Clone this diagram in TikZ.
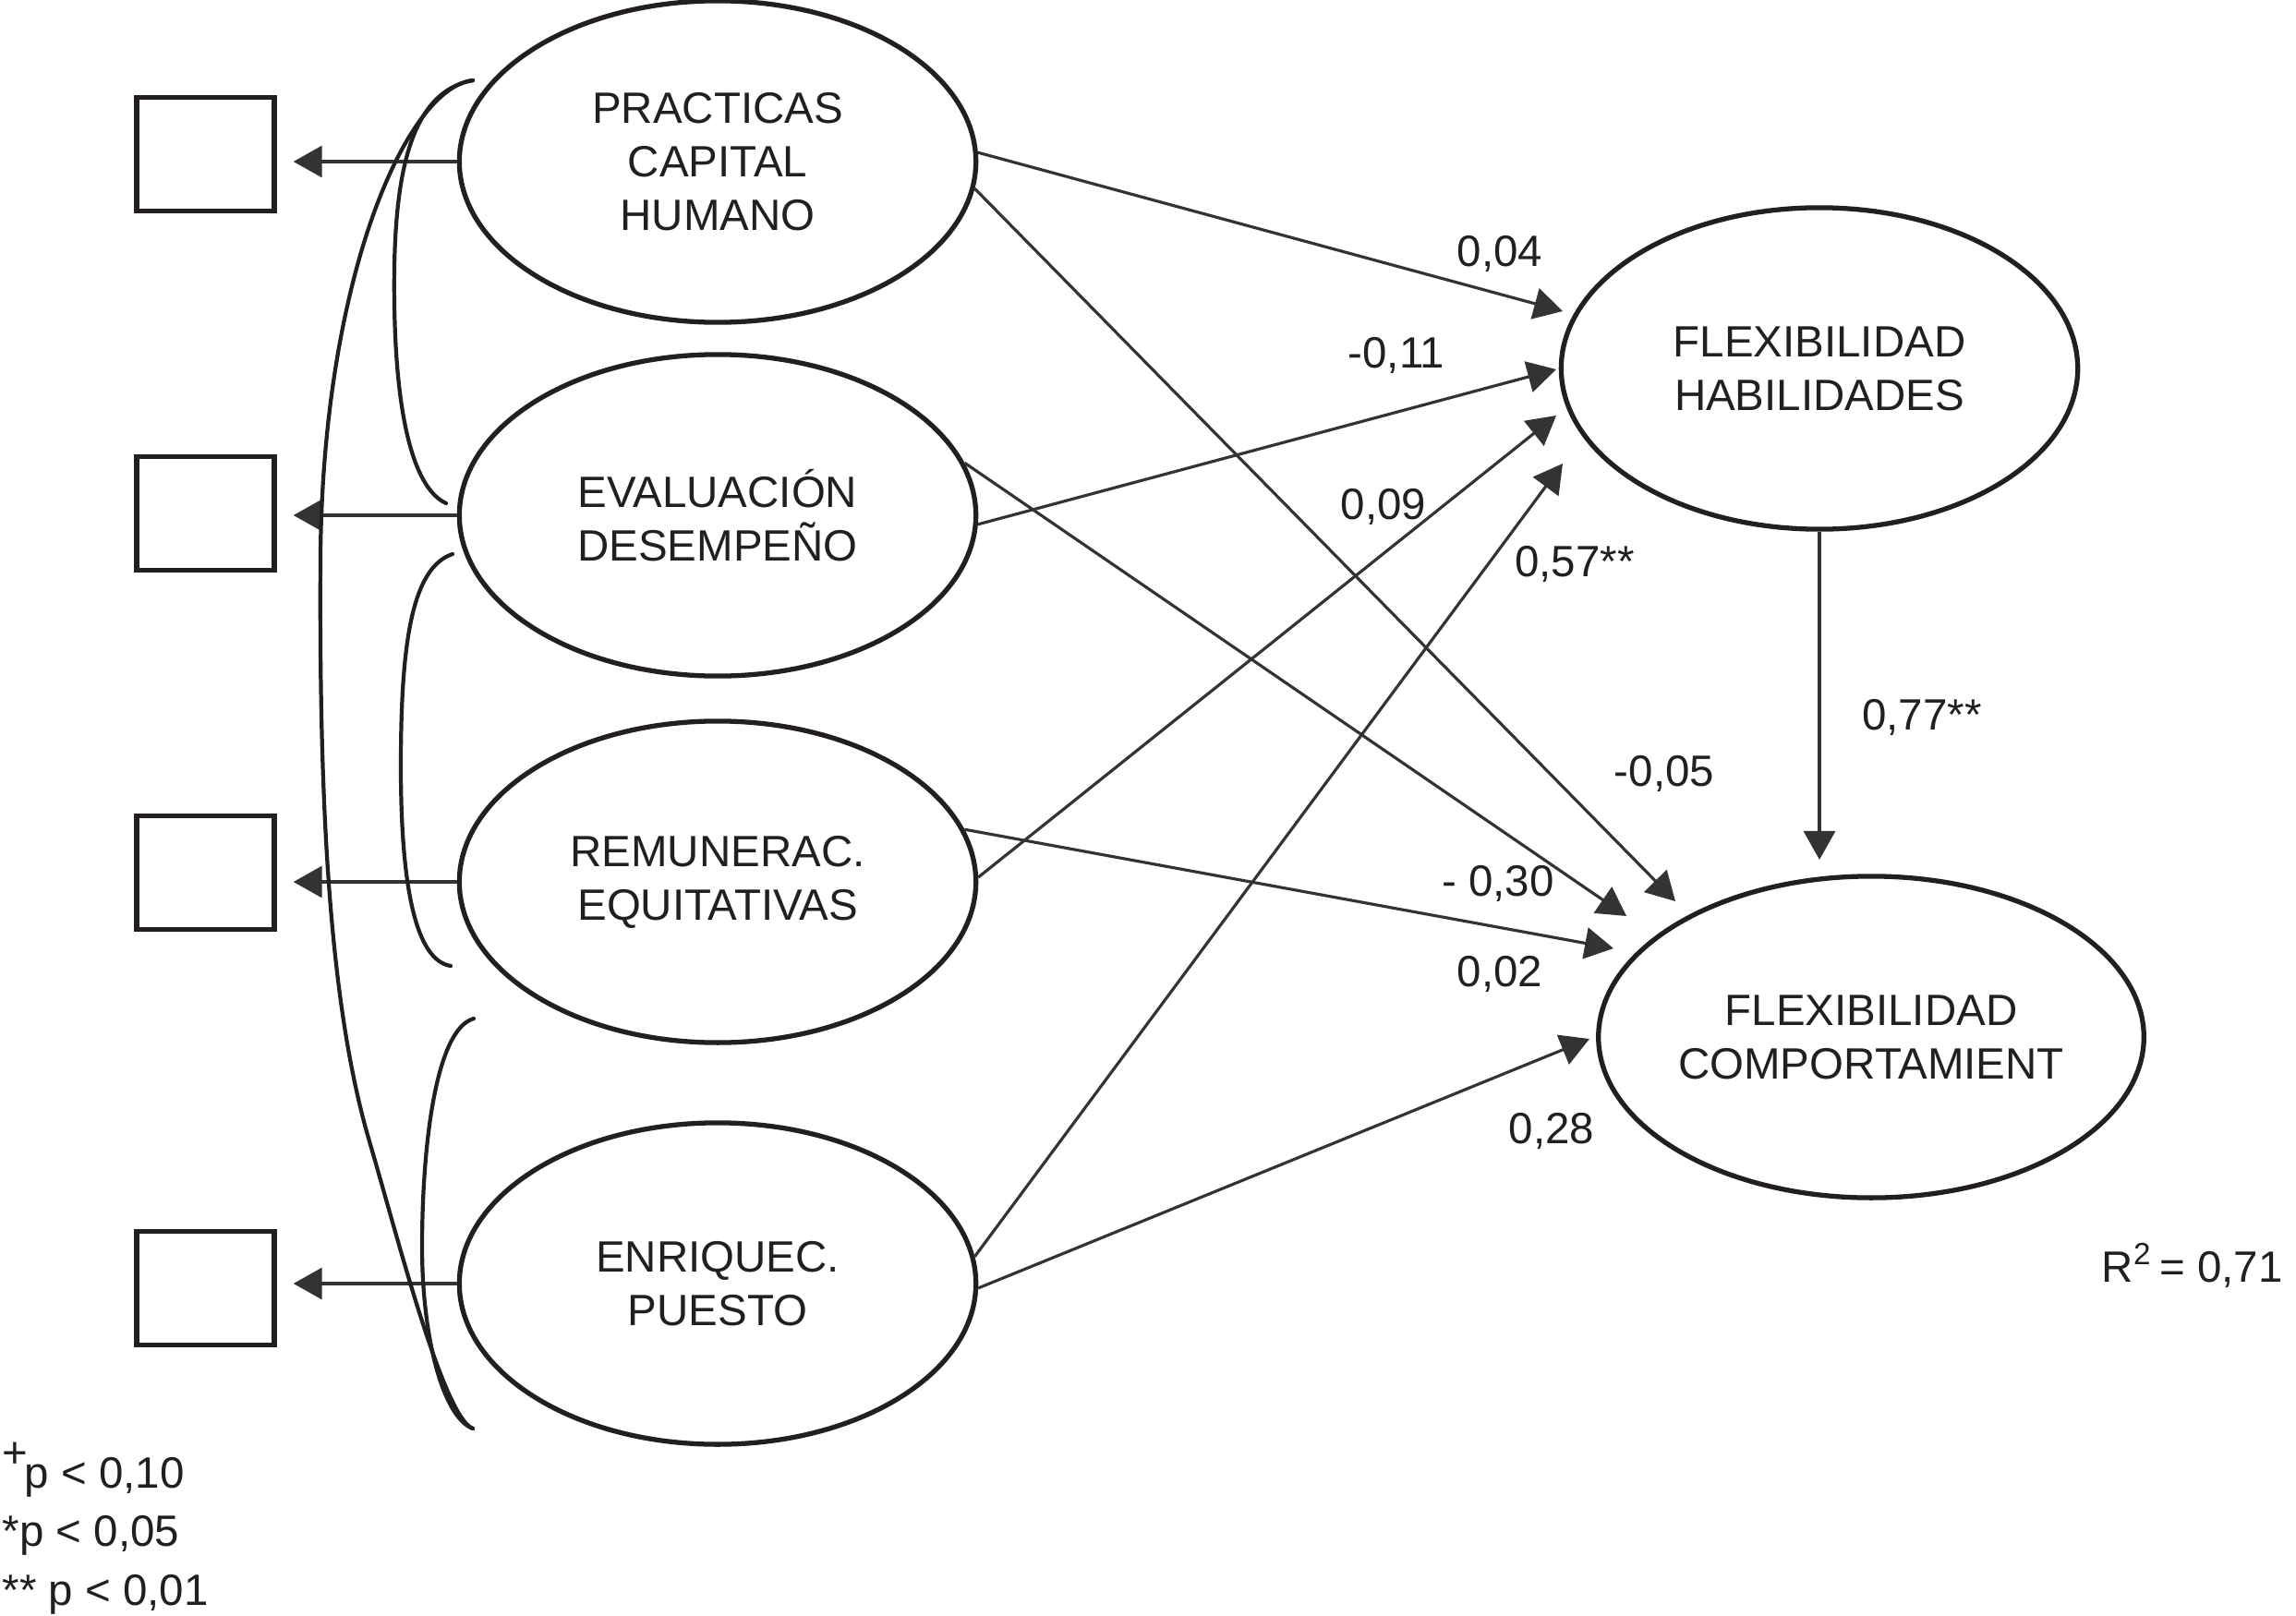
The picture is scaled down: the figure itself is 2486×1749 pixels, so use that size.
\documentclass[tikz,border=0pt]{standalone}
\usepackage{fontspec}
\setmainfont{Liberation Sans}
\usetikzlibrary{arrows.meta,shapes.geometric}
\definecolor{ink}{RGB}{35,31,32}
\definecolor{ln}{RGB}{51,51,51}
\begin{document}
\begin{tikzpicture}[x=0.01cm,y=-0.01cm,
  lat/.style={ellipse, draw=ink, line width=1.5pt, minimum width=5.59cm, minimum height=3.48cm,
    inner sep=0pt, align=center, font=\fontsize{13.5}{16.5}\selectfont, text=ink},
  ind/.style={rectangle, draw=ink, line width=1.5pt, minimum width=1.49cm, minimum height=1.23cm, inner sep=0pt},
  conn/.style={draw=ln, line width=0.9pt, -{Triangle[length=3.1mm,width=3.4mm]}},
  cov/.style={draw=ink, line width=1.2pt, line cap=round},
  lbl/.style={font=\fontsize{13.5}{16.5}\selectfont, text=ink, inner sep=0pt, anchor=base}
]
\useasboundingbox (0,0) rectangle (2486,1749);

% latent variables
\node[lat] (p1) at (777,175) {PRACTICAS\\CAPITAL\\HUMANO};
\node[lat] (p2) at (777,558) {EVALUACIÓN\\DESEMPEÑO};
\node[lat] (p3) at (777,955) {REMUNERAC.\\EQUITATIVAS};
\node[lat] (p4) at (777,1390) {ENRIQUEC.\\PUESTO};
\node[lat] (fh) at (1970,399) {FLEXIBILIDAD\\HABILIDADES};
\node[lat] (fc) at (2026,1123) {FLEXIBILIDAD\\COMPORTAMIENT};

% indicators
\node[ind] (b1) at (222.5,167) {};
\node[ind] (b2) at (222.5,556) {};
\node[ind] (b3) at (222.5,945) {};
\node[ind] (b4) at (222.5,1395) {};

\foreach \i in {1,2,3,4}
  \draw[conn, shorten >=0.18cm] (p\i.west) -- (p\i.west -| b\i.east);

% arrow tips
\coordinate (t1) at (1692,337);
\coordinate (t2) at (1685,400);
\coordinate (t3) at (1685,450);
\coordinate (t4) at (1692,502);
\coordinate (t5) at (1814,976);
\coordinate (t6) at (1761,992);
\coordinate (t7) at (1747,1027);
\coordinate (t8) at (1721,1125);
\coordinate (t9) at (1970,931);

\draw[conn] (p1.2) -- (t1);
\draw[conn] (p2.-2) -- (t2);
\draw[conn] (p3.1) -- (t3);
\draw[conn] (p4.6) -- (t4);
\draw[conn] (p1.-6) -- (t5);
\draw[conn] (p2.12) -- (t6);
\draw[conn] (p3.12) -- (t7);
\draw[conn] (p4.-1) -- (t8);
\draw[conn] (fh.south) -- (t9);

% covariance curves
\draw[cov] (512,87) .. controls (440,95) and (350,300) .. (347,600)
  .. controls (345,900) and (360,1100) .. (400,1236)
  .. controls (430,1338) and (480,1535) .. (512,1547);
\draw[cov] (512,87) .. controls (440,100) and (425,200) .. (427,330)
  .. controls (429,460) and (450,530) .. (483,545);
\draw[cov] (490,600) .. controls (445,615) and (434,700) .. (434,830)
  .. controls (434,960) and (450,1040) .. (488,1046);
\draw[cov] (513,1103) .. controls (470,1115) and (457,1250) .. (457,1350)
  .. controls (457,1450) and (480,1535) .. (512,1547);

% path coefficients
\node[lbl] (l1) at (1624,289) {0,04};
\node[lbl] (l2) at (1512,398) {-0,11};
\node[lbl] (l3) at (1498,562) {0,09};
\node[lbl] (l4) at (1705,624) {0,57**};
\node[lbl] (l5) at (1802,851) {-0,05};
\node[lbl] (l6) at (1622,970) {- 0,30};
\node[lbl] (l7) at (1624,1068) {0,02};
\node[lbl] (l8) at (1680,1238) {0,28};
\node[lbl] (l9) at (2081,790) {0,77**};
\node[lbl, anchor=base west] (r2) at (2275,1388) {R\textsuperscript{2}\,= 0,71};

% legend
\node[lbl, anchor=base west] (g1) at (2,1611) {\raisebox{6pt}{+}\kern-1pt p < 0,10};
\node[lbl, anchor=base west] (g2) at (2,1674) {*p < 0,05};
\node[lbl, anchor=base west] (g3) at (2,1738) {** p < 0,01};
\end{tikzpicture}
\end{document}
